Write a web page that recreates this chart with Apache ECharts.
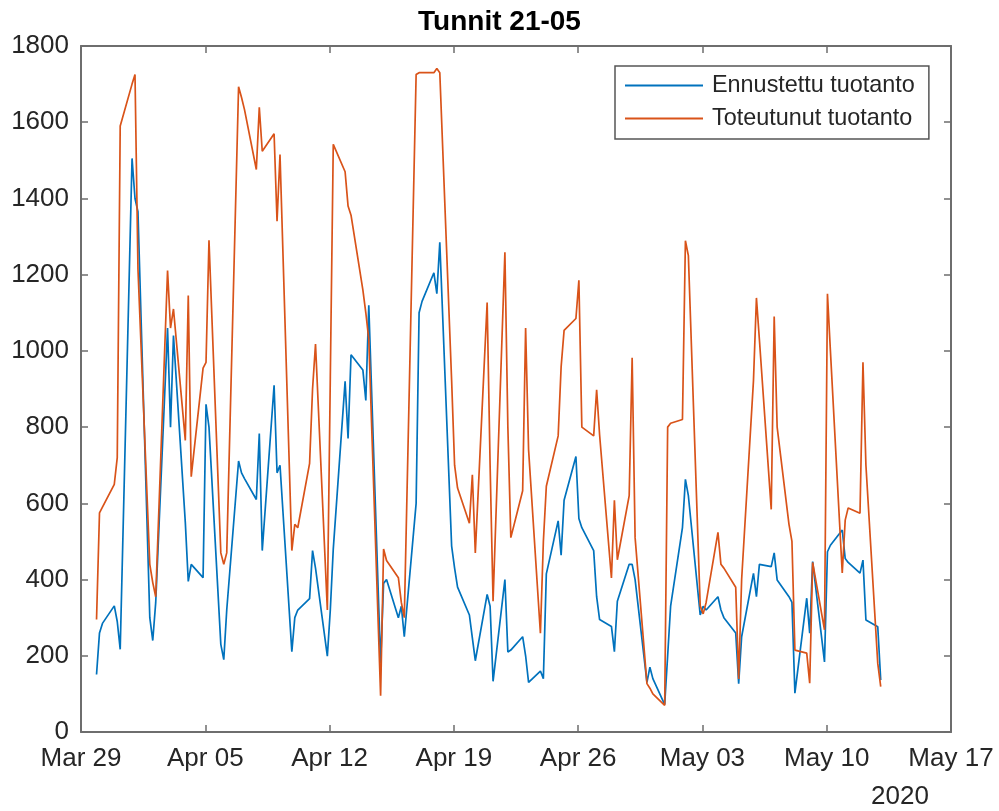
<!DOCTYPE html>
<html>
<head>
<meta charset="utf-8">
<script src="https://cdn.jsdelivr.net/npm/echarts@6/dist/echarts.min.js"></script>
<style>
html,body{margin:0;padding:0;background:#fff;}
#chart{width:999px;height:811px;}
</style>
</head>
<body>
<div id="chart"></div>
<script>
// Night start dates (hours 21-05 of each night)
const nightStarts = [
  '2020-03-29','2020-03-30','2020-03-31','2020-04-01','2020-04-02','2020-04-03','2020-04-04',
  '2020-04-05','2020-04-06','2020-04-07','2020-04-08','2020-04-09','2020-04-10','2020-04-11',
  '2020-04-12','2020-04-13','2020-04-14','2020-04-15','2020-04-16','2020-04-17','2020-04-18',
  '2020-04-19','2020-04-20','2020-04-21','2020-04-22','2020-04-23','2020-04-24','2020-04-25',
  '2020-04-26','2020-04-27','2020-04-28','2020-04-29','2020-04-30','2020-05-01','2020-05-02',
  '2020-05-03','2020-05-04','2020-05-05','2020-05-06','2020-05-07','2020-05-08','2020-05-09',
  '2020-05-10','2020-05-11','2020-05-12'
];
// sampled hours within each night
const nightHours = [21, 1, 5];

// Ennustettu tuotanto (forecast), 3 values per night
const forecast = [
  151,260,285,   331,290,217,   1505,1400,1365, 300,240,340,   1060,800,1040,  550,395,440,   405,860,800,
  230,190,320,   711,680,665,   610,783,476,    910,680,700,   211,300,320,    350,476,430,   199,320,480,
  920,770,990,   950,870,1120,  180,390,400,    300,330,250,   600,1100,1130,  1205,1150,1285, 488,430,380,
  307,247,187,   361,330,133,   400,210,215,    250,200,130,   160,140,415,    554,464,608,   723,560,536,
  476,355,295,   277,211,343,   440,440,400,    130,170,140,   72,200,330,     536,663,620,   307,330,320,
  355,320,300,   260,127,250,   416,355,440,    434,470,399,   355,340,102,    351,259,447,   184,473,490,
  530,455,445,   417,451,294,   276,136,null
];
// Toteutunut tuotanto (actual), 3 values per night
const actual = [
  295,575,590,   650,720,1590,  1700,1725,1215, 440,392,355,   1211,1060,1110, 765,1145,670,  955,970,1290,
  470,440,470,   1693,1665,1633, 1476,1639,1524, 1570,1340,1515, 476,545,536,   705,900,1018,  320,930,1542,
  1470,1380,1356, 1160,1100,1030, 95,480,450,   405,340,300,   1725,1730,1730, 1730,1741,1730, 922,700,640,
  548,675,470,   1127,700,343,  1259,800,510,   633,1060,741,  259,500,645,    777,958,1054,  1085,1185,800,
  777,898,780,   404,608,452,   620,982,510,    127,115,100,   70,800,810,     820,1289,1250, 331,310,340,
  524,440,430,   380,139,400,   922,1139,1030,  584,1090,800,  545,500,215,    207,128,445,   268,1150,1000,
  417,556,588,   574,970,700,   180,119,null
];

const axisStartDate = '2020-03-29';
const axisEndDate = '2020-05-17';
const monthNames = ['Jan','Feb','Mar','Apr','May','Jun','Jul','Aug','Sep','Oct','Nov','Dec'];
const yearLabel = '2020';

const DAY = 86400000;
function utc(s){ const p = s.split('-').map(Number); return Date.UTC(p[0], p[1]-1, p[2]); }
const t0 = utc(axisStartDate);
const xMax = (utc(axisEndDate) - t0) / DAY;

function buildSeries(vals){
  const out = [];
  nightStarts.forEach((d, i) => {
    const base = utc(d);
    nightHours.forEach((h, j) => {
      const v = vals[i*nightHours.length + j];
      if (v === null || v === undefined) return;
      const t = base + (h < 12 ? DAY : 0) + h*3600000;
      out.push([(t - t0)/DAY, v]);
    });
  });
  return out;
}

function fmtDay(v){
  const d = new Date(t0 + Math.round(v)*DAY);
  const dd = d.getUTCDate();
  return monthNames[d.getUTCMonth()] + ' ' + (dd < 10 ? '0' + dd : dd);
}

const axisCol = '#6e6e6e';
const labCol = '#262626';
const FONT = 'Liberation Sans, Arial, Helvetica, sans-serif';

const chart = echarts.init(document.getElementById('chart'), null, {renderer:'canvas'});
chart.setOption({
  backgroundColor:'#ffffff',
  animation:false,
  title:{
    text:'Tunnit 21-05', left:'center', top:3,
    textStyle:{fontFamily:FONT, fontSize:28, fontWeight:'bold', color:'#000'}
  },
  legend:{
    orient:'vertical', left:615, top:66,
    padding:[8,14,9,10], itemGap:10,
    itemWidth:78, itemHeight:2, icon:'rect',
    borderColor:'#555', borderWidth:1.5, backgroundColor:'#fff',
    textStyle:{fontFamily:FONT, fontSize:23.4, color:labCol, padding:[0,0,0,4]},
    data:['Ennustettu tuotanto','Toteutunut tuotanto']
  },
  grid:{left:81, right:48, top:46, bottom:79, containLabel:false},
  xAxis:[
    {type:'value', position:'bottom', min:0, max:xMax, interval:7,
     axisLine:{show:true, onZero:false, lineStyle:{color:axisCol, width:2}},
     axisTick:{show:true, inside:true, length:7, lineStyle:{color:axisCol, width:1.5}},
     axisLabel:{show:true, margin:14, formatter:fmtDay, fontFamily:FONT, fontSize:26, color:labCol,
                showMinLabel:true, showMaxLabel:true, hideOverlap:false},
     splitLine:{show:false}},
    {type:'value', position:'top', min:0, max:xMax, interval:7,
     axisLine:{show:true, onZero:false, lineStyle:{color:axisCol, width:2}},
     axisTick:{show:true, inside:true, length:7, lineStyle:{color:axisCol, width:1.5}},
     axisLabel:{show:false}, splitLine:{show:false}}
  ],
  yAxis:[
    {type:'value', position:'left', min:0, max:1800, interval:200,
     axisLine:{show:true, onZero:false, lineStyle:{color:axisCol, width:2}},
     axisTick:{show:true, inside:true, length:7, lineStyle:{color:axisCol, width:1.5}},
     axisLabel:{show:true, margin:12, fontFamily:FONT, fontSize:26, color:labCol,
                formatter:function(v){ return String(v); }},
     splitLine:{show:false}},
    {type:'value', position:'right', min:0, max:1800, interval:200,
     axisLine:{show:true, onZero:false, lineStyle:{color:axisCol, width:2}},
     axisTick:{show:true, inside:true, length:7, lineStyle:{color:axisCol, width:1.5}},
     axisLabel:{show:false}, splitLine:{show:false}}
  ],
  graphic:[
    {type:'text', left:871, top:784,
     style:{text:yearLabel, font:'26px Liberation Sans, Arial, sans-serif', fill:labCol}}
  ],
  series:[
    {name:'Ennustettu tuotanto', type:'line', xAxisIndex:0, yAxisIndex:0,
     data:buildSeries(forecast), showSymbol:false, symbol:'none',
     color:'#0072BD', lineStyle:{color:'#0072BD', width:1.7}},
    {name:'Toteutunut tuotanto', type:'line', xAxisIndex:0, yAxisIndex:0,
     data:buildSeries(actual), showSymbol:false, symbol:'none',
     color:'#D95319', lineStyle:{color:'#D95319', width:1.7}}
  ]
});
</script>
</body>
</html>
